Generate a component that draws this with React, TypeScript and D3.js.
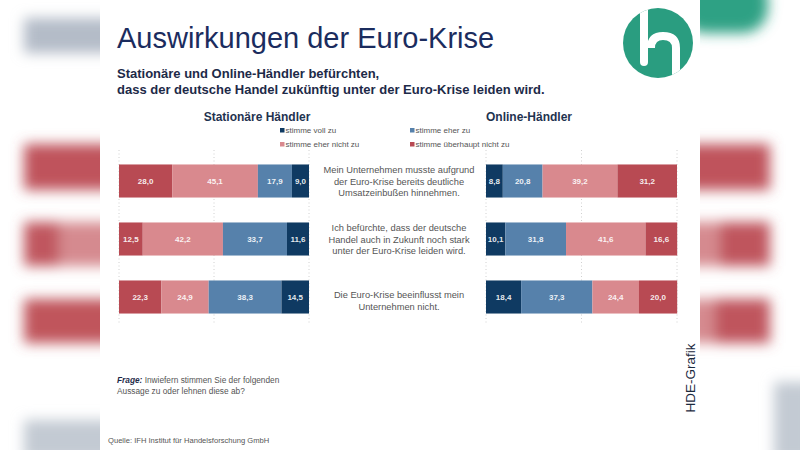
import React from "react";
import * as d3 from "d3";

const statements = [
  ["Mein Unternehmen musste aufgrund", "der Euro-Krise bereits deutliche", "Umsatzeinbußen hinnehmen."],
  ["Ich befürchte, dass der deutsche", "Handel auch in Zukunft noch stark", "unter der Euro-Krise leiden wird."],
  ["Die Euro-Krise beeinflusst mein", "Unternehmen nicht."],
];
const statementIds = ["s1", "s2", "s3"];

const keys = ["vollZu", "eherZu", "eherNicht", "ueberhaupt"];
const legendLabels = ["stimme voll zu", "stimme eher zu", "stimme eher nicht zu", "stimme überhaupt nicht zu"];
const colors = ["#0f3a62", "#5681ab", "#d9898e", "#b84a53"];

// Stationäre Händler
const statVollZu = [9.0, 11.6, 14.5];
const statEherZu = [17.9, 33.7, 38.3];
const statEherNicht = [45.1, 42.2, 24.9];
const statUeberhaupt = [28.0, 12.5, 22.3];

// Online-Händler
const onVollZu = [8.8, 10.1, 18.4];
const onEherZu = [20.8, 31.8, 37.3];
const onEherNicht = [39.2, 41.6, 24.4];
const onUeberhaupt = [31.2, 16.6, 20.0];

const gridTicks = [0, 50, 100];

const FONT = "'Liberation Sans', Arial, sans-serif";
const fmt = (v: number) => v.toFixed(1).replace(".", ",");

function buildRows(v: number[], e: number[], n: number[], u: number[]) {
  return statementIds.map((id, i) => ({ id, vollZu: v[i], eherZu: e[i], eherNicht: n[i], ueberhaupt: u[i] }));
}

export default function App() {
  const statRows = buildRows(statVollZu, statEherZu, statEherNicht, statUeberhaupt);
  const onRows = buildRows(onVollZu, onEherZu, onEherNicht, onUeberhaupt);

  const leftOrder = ["ueberhaupt", "eherNicht", "eherZu", "vollZu"];
  const rightOrder = ["vollZu", "eherZu", "eherNicht", "ueberhaupt"];

  const stackL = d3.stack<any>().keys(leftOrder)(statRows);
  const stackR = d3.stack<any>().keys(rightOrder)(onRows);

  const xL = d3.scaleLinear().domain([0, 100]).range([119, 309]);
  const xR = d3.scaleLinear().domain([0, 100]).range([486, 677]);
  const y = d3.scaleBand().domain(statementIds).range([152, 326]).paddingInner(0.43).paddingOuter(0.215);
  const color = (k: string) => colors[keys.indexOf(k)];

  const renderStack = (stack: any[], x: d3.ScaleLinear<number, number>, pfx: string) =>
    stack.map((layer) =>
      layer.map((d: any, i: number) => {
        const id = statementIds[i];
        const x0 = x(d[0]);
        const x1 = x(d[1]);
        const val = d[1] - d[0];
        return (
          <g key={`${pfx}-${layer.key}-${id}`}>
            <rect x={x0} y={y(id)} width={x1 - x0} height={y.bandwidth()} fill={color(layer.key)} />
            <text
              x={(x0 + x1) / 2}
              y={(y(id) as number) + y.bandwidth() / 2 + 3}
              textAnchor="middle"
              fontSize={8}
              fontWeight="bold"
              fill="#fff"
              fillOpacity={0.9}
            >
              {fmt(val)}
            </text>
          </g>
        );
      })
    );

  const grid = (x: d3.ScaleLinear<number, number>, pfx: string) =>
    gridTicks.map((t) => (
      <line key={`${pfx}-g${t}`} x1={x(t)} x2={x(t)} y1={150} y2={325} stroke="#c4c4c4" strokeWidth={0.8} strokeDasharray="1,2.5" />
    ));

  const legendPos = [
    [280, 133],
    [410, 133],
    [280, 147],
    [410, 147],
  ];

  return (
    <svg width={800} height={450} style={{ position: "absolute", left: 0, top: 0, fontFamily: FONT }}>
      <defs>
        <filter id="blur" x="-50%" y="-50%" width="200%" height="200%">
          <feGaussianBlur stdDeviation="6.5" />
        </filter>
        <clipPath id="logoClip">
          <circle cx={658} cy={43} r={35} />
        </clipPath>
      </defs>
      <rect width={800} height={450} fill="#fff" />
      {/* blurred background */}
      <g filter="url(#blur)">
        <rect x={24} y={18} width={100} height={35} fill="#b4bcc8" />
        <rect x={24} y={144} width={100} height={46} fill="#bf535b" />
        <rect x={24} y={222} width={35} height={44} fill="#c0575f" />
        <rect x={59} y={222} width={65} height={44} fill="#d58a8f" />
        <rect x={24} y={299} width={100} height={44} fill="#c0555c" />
        <rect x={24} y={420} width={100} height={40} fill="#c3cad3" />
        <rect x={680} y={-25} width={88} height={58} rx={25} fill="#2fa184" />
        <rect x={680} y={144} width={90} height={46} fill="#bf535b" />
        <rect x={680} y={222} width={40} height={44} fill="#d58a8f" />
        <rect x={720} y={222} width={50} height={44} fill="#bf555d" />
        <rect x={680} y={299} width={35} height={44} fill="#d58a8f" />
        <rect x={715} y={299} width={55} height={44} fill="#bf555d" />
        <rect x={774} y={382} width={40} height={80} fill="#c3cad3" />
      </g>
      <rect x={100} y={0} width={600} height={450} fill="#fff" />

      {/* title */}
      <text x={117} y={48} fontSize={29} fill="#1b2c5e">Auswirkungen der Euro-Krise</text>
      <text x={117} y={78} fontSize={13} fontWeight="bold" fill="#1d2a48">Stationäre und Online-Händler  befürchten,</text>
      <text x={117} y={94} fontSize={13} fontWeight="bold" fill="#1d2a48">dass der deutsche Handel zukünftig unter der Euro-Krise leiden wird.</text>

      {/* logo */}
      <circle cx={658} cy={43} r={35} fill="#2a9d80" />
      <g clipPath="url(#logoClip)" stroke="#fff" strokeWidth={8} fill="none" strokeLinecap="round">
        <path d="M644,4 L644,62" />
        <path d="M651,48 Q651,36 663,36 Q676,36 676,48 L676,90" strokeLinecap="butt" />
      </g>

      {/* panel headings */}
      <text x={257} y={121} fontSize={12} fontWeight="bold" fill="#1f3350" textAnchor="middle">Stationäre Händler</text>
      <text x={529} y={121} fontSize={12} fontWeight="bold" fill="#1f3350" textAnchor="middle">Online-Händler</text>

      {/* legend */}
      {legendLabels.map((l, i) => (
        <g key={l}>
          <rect x={legendPos[i][0]} y={legendPos[i][1] - 5} width={4.5} height={4.5} fill={colors[i]} />
          <text x={legendPos[i][0] + 5.5} y={legendPos[i][1]} fontSize={8} fill="#555">{l}</text>
        </g>
      ))}

      {grid(xL, "L")}
      {grid(xR, "R")}
      {renderStack(stackL, xL, "L")}
      {renderStack(stackR, xR, "R")}

      {/* statements */}
      {statements.map((lines, i) => {
        const cy = (y(statementIds[i]) as number) + y.bandwidth() / 2;
        const startY = i === 2 ? cy + 1 : cy - 8;
        return (
          <text key={statementIds[i]} x={399} textAnchor="middle" fontSize={9.3} fill="#555">
            {lines.map((ln, j) => (
              <tspan key={j} x={399} y={startY + j * 11.7}>{ln}</tspan>
            ))}
          </text>
        );
      })}

      {/* question */}
      <text x={117} y={383} fontSize={8.3} fill="#555">
        <tspan fontWeight="bold" fontStyle="italic" fill="#1d2a48">Frage:</tspan>
        <tspan> Inwiefern  stimmen Sie der folgenden</tspan>
      </text>
      <text x={117} y={394} fontSize={8.3} fill="#555">Aussage zu oder lehnen diese ab?</text>

      <text x={108} y={443} fontSize={7.6} fill="#555">Quelle: IFH Institut für Handelsforschung GmbH</text>

      <text transform="translate(695,378) rotate(-90)" textAnchor="middle" fontSize={13.5} fill="#1c2a3e">HDE-Grafik</text>
    </svg>
  );
}
